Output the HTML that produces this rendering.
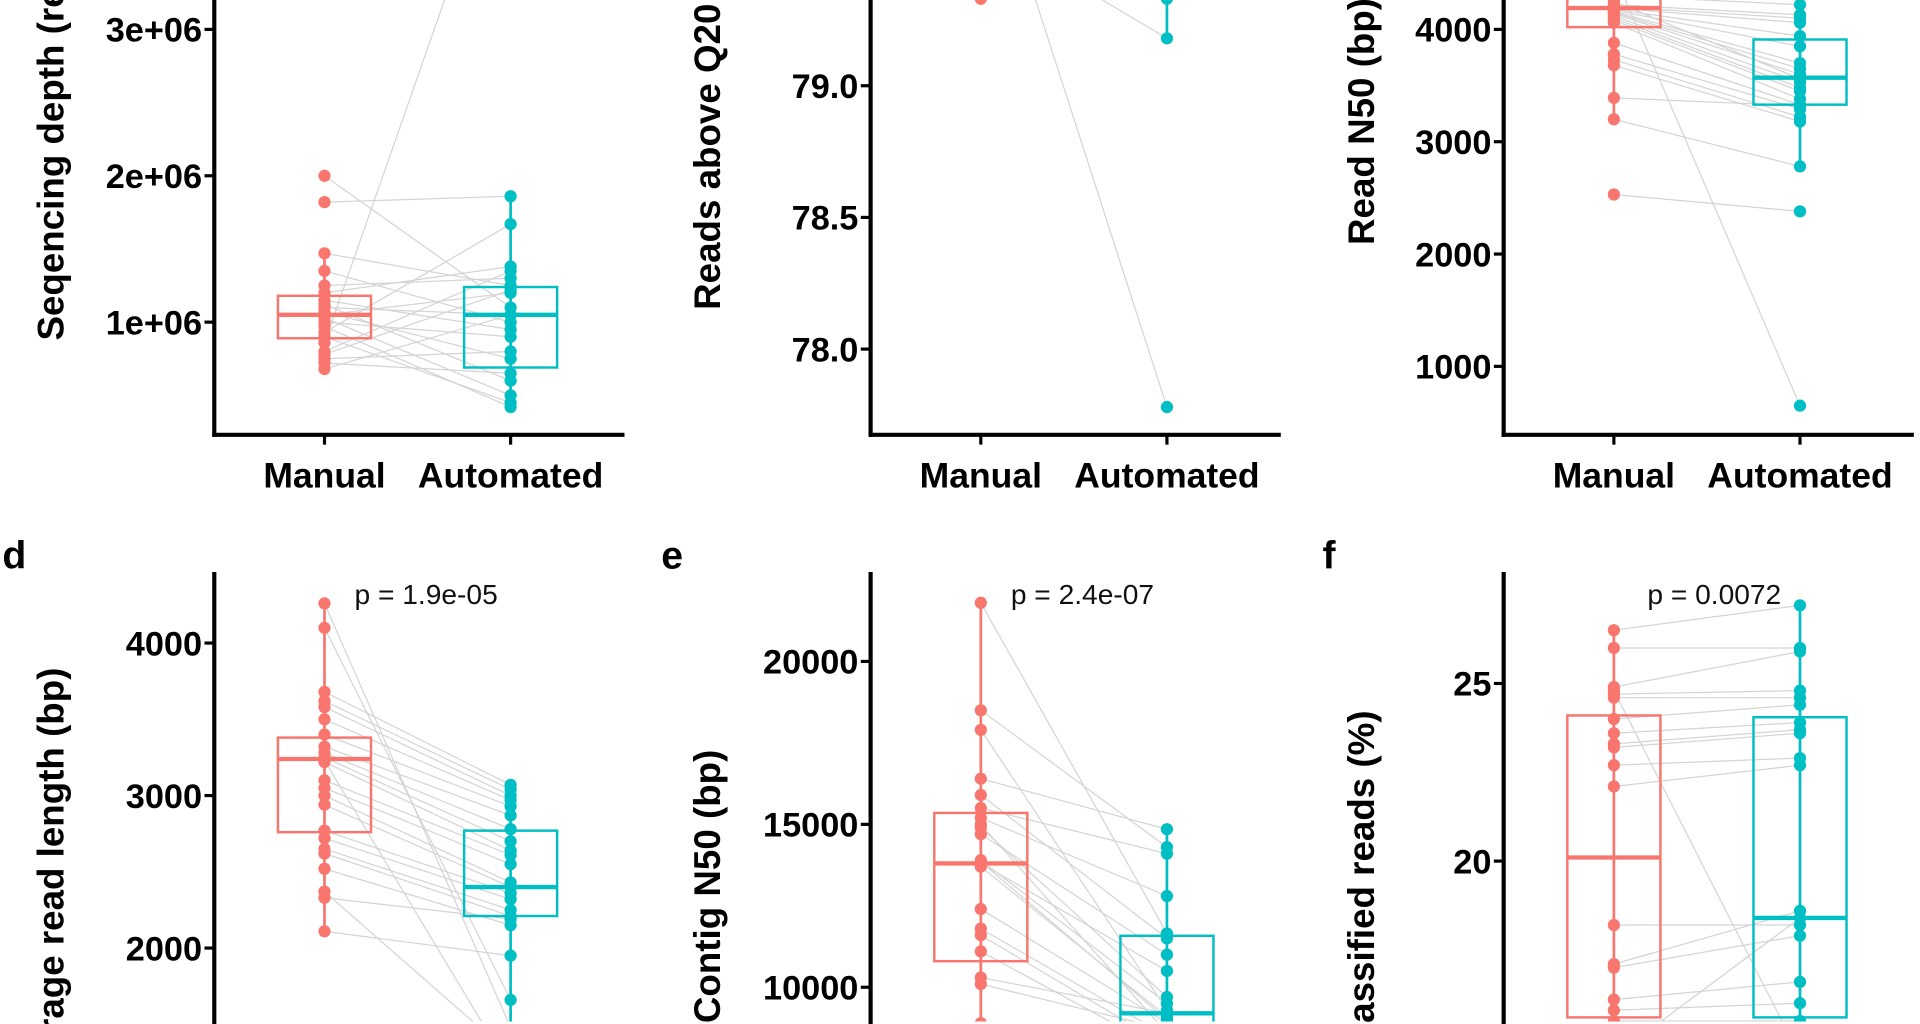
<!DOCTYPE html>
<html><head><meta charset="utf-8"><style>
html,body{margin:0;padding:0;background:#fff;overflow:hidden;width:1920px;height:1024px}
svg{display:block;overflow:hidden}
text{font-family:"Liberation Sans",Arial,sans-serif}
</style></head><body>
<svg id="fig" width="1920" height="1024" viewBox="0 0 1568 836" preserveAspectRatio="none" xmlns="http://www.w3.org/2000/svg">
<rect width="1568" height="836" fill="#fff"/>
</svg>
<script>
// ---- data (paired: manual[i] <-> auto[i]) ----
const groups = ["Manual","Automated"];
const manualA = [2.0e6,1.82e6,1.47e6,1.35e6,1.25e6,1.2e6,1.15e6,1.12e6,1.1e6,1.07e6,1.05e6,1.03e6,1.0e6,0.97e6,0.93e6,0.9e6,0.86e6,0.8e6,0.78e6,0.75e6,0.72e6,0.68e6];
const autoA   = [1.1e6,1.86e6,1.25e6,1.0e6,1.3e6,1.38e6,0.95e6,0.6e6,1.05e6,0.75e6,1.2e6,0.5e6,0.9e6,0.42e6,1.67e6,0.45e6,4.49e6,1.35e6,1.22e6,0.8e6,0.65e6,1.05e6];
const boxManualA = [0.89e6,1.05e6,1.18e6], boxAutoA = [0.69e6,1.05e6,1.24e6];
const whiskManualA = [0.68e6,1.47e6], whiskAutoA = [0.42e6,1.86e6];
const ticksA = [1e6,2e6,3e6], tickLabelsA = ["1e+06","2e+06","3e+06"];

const manualB = [79.97,79.33,79.6,79.7];
const autoB   = [77.78,79.33,79.18,79.5];
const boxManualB = [79.5,79.65,79.85], boxAutoB = [79.4,79.55,79.75];
const whiskManualB = [79.33,80.2], whiskAutoB = [79.18,80.2];
const ticksB = [78.0,78.5,79.0], tickLabelsB = ["78.0","78.5","79.0"];

const manualC = [4500,4300,4220,4200,4190,4180,4170,4160,4150,4140,4120,4100,4080,4060,3880,3780,3730,3680,3390,3200,2530,4250];
const autoC   = [650,4220,4130,4100,4060,3940,3850,3700,3650,3600,3530,3480,3450,3380,3330,3290,3220,3180,3320,2780,2380,3560];
const boxManualC = [4020,4190,4320], boxAutoC = [3330,3570,3910];
const whiskManualC = [3200,4600], whiskAutoC = [2780,4250];
const ticksC = [1000,2000,3000,4000], tickLabelsC = ["1000","2000","3000","4000"];

const manualD = [4260,4100,3680,3620,3580,3500,3400,3320,3280,3250,3220,3100,3050,3000,2940,2770,2720,2650,2620,2520,2370,2330,2110,3230];
const autoD   = [1480,1660,3070,3040,3000,2970,2930,2870,2780,2700,2640,2610,2550,2430,2400,2360,2320,2250,2210,2150,1300,2190,1950,1200];
const boxManualD = [2760,3240,3380], boxAutoD = [2210,2400,2770];
const whiskManualD = [2110,4260], whiskAutoD = [1200,3070];
const ticksD = [2000,3000,4000], tickLabelsD = ["2000","3000","4000"];

const manualE = [21800,18500,17900,16400,15900,15500,15200,14900,14700,13900,13800,13700,12400,11800,11600,11100,10300,10100,8900,13850,15000,8000];
const autoE   = [11650,14300,9300,14850,11500,14100,12800,9700,11000,9500,10500,9100,8900,8500,8200,8000,9200,8700,7500,9000,8600,7000];
const boxManualE = [10800,13800,15350], boxAutoE = [8000,9200,11580];
const whiskManualE = [8000,21800], whiskAutoE = [7000,14850];
const ticksE = [10000,15000,20000], tickLabelsE = ["10000","15000","20000"];

const manualF = [26.5,26.0,24.9,24.7,24.6,24.0,23.6,23.3,23.2,22.7,22.1,18.2,17.1,17.0,16.1,15.8,24.8,15.5,14.5,14.0];
const autoF   = [27.2,26.0,25.9,24.8,24.6,24.4,23.9,23.7,23.6,22.9,22.7,18.2,18.6,17.9,16.6,16.0,14.5,15.5,18.4,15.0];
const boxManualF = [15.6,20.1,24.1], boxAutoF = [15.6,18.4,24.05];
const whiskManualF = [14.0,26.5], whiskAutoF = [14.5,27.2];
const ticksF = [20,25], tickLabelsF = ["20","25"];

const pValues = ["p = 1.9e-05","p = 2.4e-07","p = 0.0072"];

// ---- drawing ----
const NS="http://www.w3.org/2000/svg", svg=document.getElementById('fig');
const RED="#F8766D", TEAL="#00BFC4";
function mk(tag,attrs,parent){const e=document.createElementNS(NS,tag);for(const k in attrs)e.setAttribute(k,attrs[k]);(parent||svg).appendChild(e);return e;}

const panels=[
 {id:'a',ax:175,right:510,top:0,bottom:355,xaxis:true,refV:1e6,refY:263,unit:1e6,unitPx:119.5,m:manualA,a:autoA,bm:boxManualA,ba:boxAutoA,wm:whiskManualA,wa:whiskAutoA,ticks:ticksA,labels:tickLabelsA,title:"Seqencing depth (reads)",titleX:52,titleY:278,anchor:"start"},
 {id:'b',ax:711,right:1046,top:0,bottom:355,xaxis:true,refV:79,refY:70,unit:0.5,unitPx:107.5,m:manualB,a:autoB,bm:boxManualB,ba:boxAutoB,wm:whiskManualB,wa:whiskAutoB,ticks:ticksB,labels:tickLabelsB,title:"Reads above Q20 (%)",titleX:588,titleY:253,anchor:"start"},
 {id:'c',ax:1228,right:1563,top:0,bottom:355,xaxis:true,refV:4000,refY:24,unit:1000,unitPx:91.7,m:manualC,a:autoC,bm:boxManualC,ba:boxAutoC,wm:whiskManualC,wa:whiskAutoC,ticks:ticksC,labels:tickLabelsC,title:"Read N50 (bp)",titleX:1122,titleY:200,anchor:"start"},
 {id:'d',ax:175,right:510,top:467,bottom:836,xaxis:false,refV:4000,refY:525,unit:1000,unitPx:124.5,m:manualD,a:autoD,bm:boxManualD,ba:boxAutoD,wm:whiskManualD,wa:whiskAutoD,ticks:ticksD,labels:tickLabelsD,title:"Average read length (bp)",titleX:52,titleY:545,anchor:"end",letter:"d",letterX:2,p:pValues[0],pX:348},
 {id:'e',ax:711,right:1046,top:467,bottom:836,xaxis:false,refV:20000,refY:540,unit:5000,unitPx:133,m:manualE,a:autoE,bm:boxManualE,ba:boxAutoE,wm:whiskManualE,wa:whiskAutoE,ticks:ticksE,labels:tickLabelsE,title:"Contig N50 (bp)",titleX:588,titleY:612,anchor:"end",letter:"e",letterX:540,p:pValues[1],pX:884},
 {id:'f',ax:1228,right:1563,top:467,bottom:836,xaxis:false,refV:25,refY:558,unit:5,unitPx:145,m:manualF,a:autoF,bm:boxManualF,ba:boxAutoF,wm:whiskManualF,wa:whiskAutoF,ticks:ticksF,labels:tickLabelsF,title:"Classified reads (%)",titleX:1122,titleY:580,anchor:"end",letter:"f",letterX:1080,p:pValues[2],pX:1400}
];

panels.forEach(P=>{
  const y=v=>P.refY-(v-P.refV)/P.unit*P.unitPx;
  const xm=P.ax+90, xa=P.ax+242, hw=38;
  const g=mk('g',{});
  
  
  const cp=mk('clipPath',{id:'clip'+P.id},g);
  mk('rect',{x:P.ax+2,y:P.top-60,width:P.right-P.ax,height:P.bottom-P.top+60-2},cp);
  const plot=mk('g',{'clip-path':'url(#clip'+P.id+')'},g);
  for(let i=0;i<P.m.length;i++){
    const l=mk('line',{x1:xm,y1:y(P.m[i]),x2:xa,y2:y(P.a[i]),stroke:'#d4d4d4','stroke-width':1},plot);
    
    
  }
  [[xm,P.bm,P.wm,RED,'manual'],[xa,P.ba,P.wa,TEAL,'automated']].forEach(([cx,b,w,col,nm])=>{
    const wl=mk('line',{x1:cx,x2:cx,y1:y(w[0]),y2:y(w[1]),stroke:col,'stroke-width':2.2},plot);
    
    
    const r=mk('rect',{x:cx-hw,width:hw*2,y:y(b[2]),height:y(b[0])-y(b[2]),fill:'none',stroke:col,'stroke-width':2},plot);
    
    
    const md=mk('line',{x1:cx-hw,x2:cx+hw,y1:y(b[1]),y2:y(b[1]),stroke:col,'stroke-width':3.5},plot);
    
    
  });
  [[xm,P.m,RED,'manual'],[xa,P.a,TEAL,'automated']].forEach(([cx,arr,col,nm])=>{
    arr.forEach(v=>{
      const c=mk('circle',{cx:cx,cy:y(v),r:5,fill:col},plot);
      
      
    });
  });
  const yl=mk('line',{x1:P.ax,x2:P.ax,y1:P.top,y2:P.bottom+(P.xaxis?1.7:0),stroke:'#000','stroke-width':3.4},g);
  
  
  P.ticks.forEach((t,i)=>{
    const ty=y(t);
    const tk=mk('line',{x1:P.ax-8,x2:P.ax,y1:ty,y2:ty,stroke:'#000','stroke-width':2.6},g);
    
    
    const tx=mk('text',{x:P.ax-10,y:ty+10,'text-anchor':'end','font-size':28,'font-weight':'bold',fill:'#000'},g);
    tx.textContent=P.labels[i];
    
    
  });
  if(P.xaxis){
    const xl=mk('line',{x1:P.ax-1.7,x2:P.right,y1:P.bottom,y2:P.bottom,stroke:'#000','stroke-width':3.4},g);
    
    
    [xm,xa].forEach((cx,i)=>{
      const tk=mk('line',{x1:cx,x2:cx,y1:P.bottom,y2:P.bottom+8,stroke:'#000','stroke-width':2.6},g);
      
      
      const tx=mk('text',{x:cx,y:P.bottom+43,'text-anchor':'middle','font-size':29,'font-weight':'bold',fill:'#000'},g);
      tx.textContent=groups[i];
      
      
    });
  }
  const tt=mk('text',{x:0,y:0,'text-anchor':P.anchor,'font-size':30,'font-weight':'bold',fill:'#000',transform:`translate(${P.titleX},${P.titleY}) rotate(-90)`},g);
  tt.textContent=P.title;
  
  
  if(P.letter){
    const lt=mk('text',{x:P.letterX,y:464,'font-size':32,'font-weight':'bold',fill:'#000'},g);
    lt.textContent=P.letter;
    
    
    const pt=mk('text',{x:P.pX,y:493,'text-anchor':'middle','font-size':23,fill:'#111'},g);
    pt.textContent=P.p;
    
    
  }
});
</script>
</body></html>
